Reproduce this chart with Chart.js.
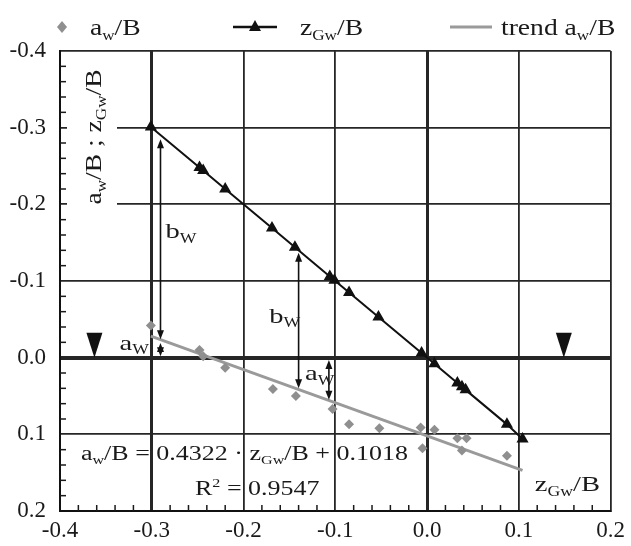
<!DOCTYPE html>
<html>
<head>
<meta charset="utf-8">
<script src="https://cdn.jsdelivr.net/npm/chart.js@4"></script>
<style>
  html, body { margin: 0; padding: 0; background: #fff; }
  #wrap { width: 631px; height: 546px; }
</style>
</head>
<body>
<div id="wrap"><canvas id="c" width="631" height="546"></canvas></div>
<script>
// ======== DATA ========
const zX = [-0.301, -0.248, -0.244, -0.220, -0.169, -0.144, -0.106, -0.101, -0.085, -0.053, -0.006, 0.008, 0.033, 0.038, 0.042, 0.087, 0.104];
const zY = [-0.301, -0.248, -0.244, -0.220, -0.169, -0.144, -0.106, -0.101, -0.085, -0.053, -0.006, 0.008, 0.033, 0.038, 0.042, 0.087, 0.106];

const aX = [-0.301, -0.248, -0.244, -0.220, -0.168, -0.143, -0.103, -0.085, -0.052, -0.007, -0.005, 0.008, 0.033, 0.043, 0.038, 0.087];
const aY = [-0.042, -0.010, -0.002, 0.013, 0.041, 0.050, 0.067, 0.087, 0.092, 0.091, 0.118, 0.094, 0.105, 0.105, 0.121, 0.128];

const trendX = [-0.301, 0.104];
const trendY = [-0.028, 0.147];

const xTicks = [-0.4, -0.3, -0.2, -0.1, 0.0, 0.1, 0.2];
const yTicks = [-0.4, -0.3, -0.2, -0.1, 0.0, 0.1, 0.2];

// arrows: x, from y1 to y2 (both heads)
const arrowX  = [-0.2905, -0.2905, -0.140, -0.107];
const arrowY1 = [-0.285, -0.019, -0.137, 0.003];
const arrowY2 = [-0.024, -0.002, 0.040, 0.055];

// zero markers (down triangles on the 0 line)
const markX = [-0.3625, 0.149];

const SERIF = "'Liberation Serif', 'Times New Roman', serif";
const STRETCH = 1.3;

// ======== TEXT HELPER ========
function partsWidth(ctx, parts, size) {
  let w = 0;
  for (const p of parts) {
    const s = p[1] ? size * 0.62 : size;
    ctx.font = s + "px " + SERIF;
    w += ctx.measureText(p[0]).width;
  }
  return w;
}

function drawRich(ctx, parts, x, y, size, align, sx, rot) {
  ctx.save();
  ctx.translate(x, y);
  if (rot) ctx.rotate(rot);
  ctx.scale(sx, 1);
  const w = partsWidth(ctx, parts, size);
  let cx = align === "center" ? -w / 2 : align === "right" ? -w : 0;
  ctx.textAlign = "left";
  ctx.textBaseline = "alphabetic";
  ctx.fillStyle = "#1a1a1a";
  const base = size * 0.33;
  for (const p of parts) {
    const s = p[1] ? size * 0.62 : size;
    const dy = p[1] === "sub" ? size * 0.2 : p[1] === "sup" ? -size * 0.4 : 0;
    ctx.font = s + "px " + SERIF;
    ctx.fillText(p[0], cx, base + dy);
    cx += ctx.measureText(p[0]).width;
  }
  ctx.restore();
}

function arrowHead(ctx, x, y, dir) {
  // dir = -1 points up, 1 points down; (x,y) is the tip
  ctx.beginPath();
  ctx.moveTo(x, y);
  ctx.lineTo(x - 3.5, y - dir * 9);
  ctx.lineTo(x + 3.5, y - dir * 9);
  ctx.closePath();
  ctx.fill();
}

// ======== PLUGIN ========
const extras = {
  id: "extras",
  beforeDatasetsDraw(chart) {
    const { ctx, chartArea: a, scales: { x, y } } = chart;
    ctx.save();
    ctx.strokeStyle = "#1a1a1a";
    ctx.lineWidth = 1.5;
    // minor ticks
    for (let i = 0; i <= 30; i++) {
      if (i % 5 === 0) continue;
      const v = -0.4 + i * 0.02;
      const px = x.getPixelForValue(v);
      ctx.beginPath(); ctx.moveTo(px, a.bottom); ctx.lineTo(px, a.bottom - 6); ctx.stroke();
      const py = y.getPixelForValue(v);
      ctx.beginPath(); ctx.moveTo(a.left, py); ctx.lineTo(a.left + 6, py); ctx.stroke();
    }
    // y axis title with white box
    ctx.fillStyle = "#fff";
    ctx.fillRect(a.left + 7, a.top + 3, 50, 170);
    drawRich(ctx, [["a"], ["w", "sub"], ["/B ; z"], ["Gw", "sub"], ["/B"]],
      a.left + 33, a.top + 86, 24, "center", 1.15, -Math.PI / 2);
    ctx.restore();
  },
  afterDatasetsDraw(chart) {
    const { ctx, scales: { x, y } } = chart;
    ctx.save();
    ctx.strokeStyle = "#111";
    ctx.fillStyle = "#111";
    ctx.lineWidth = 1.6;
    arrowX.forEach((ax, i) => {
      const px = x.getPixelForValue(ax);
      const p1 = y.getPixelForValue(arrowY1[i]);
      const p2 = y.getPixelForValue(arrowY2[i]);
      ctx.beginPath(); ctx.moveTo(px, p1 + 4); ctx.lineTo(px, p2 - 4); ctx.stroke();
      arrowHead(ctx, px, p1, -1);
      arrowHead(ctx, px, p2, 1);
    });
    markX.forEach(mx => {
      const px = x.getPixelForValue(mx);
      const py = y.getPixelForValue(0);
      ctx.beginPath();
      ctx.moveTo(px, py);
      ctx.lineTo(px - 8, py - 25);
      ctx.lineTo(px + 8, py - 25);
      ctx.closePath();
      ctx.fill();
    });
    // labels
    const P = (vx, vy) => [x.getPixelForValue(vx), y.getPixelForValue(vy)];
    let q;
    q = P(-0.285, -0.165); drawRich(ctx, [["b"], ["W", "sub"]], q[0], q[1], 22, "left", STRETCH);
    q = P(-0.303, -0.020); drawRich(ctx, [["a"], ["W", "sub"]], q[0], q[1], 22, "right", STRETCH);
    q = P(-0.172, -0.055); drawRich(ctx, [["b"], ["W", "sub"]], q[0], q[1], 22, "left", STRETCH);
    q = P(-0.133, 0.020); drawRich(ctx, [["a"], ["W", "sub"]], q[0], q[1], 22, "left", STRETCH);
    q = P(-0.199, 0.125);
    drawRich(ctx, [["a"], ["w", "sub"], ["/B = 0.4322 \u00b7 z"], ["Gw", "sub"], ["/B + 0.1018"]], q[0], q[1], 20, "center", STRETCH);
    q = P(-0.185, 0.171);
    drawRich(ctx, [["R"], ["2", "sup"], [" = 0.9547"]], q[0], q[1], 20, "center", STRETCH);
    q = P(0.153, 0.165);
    drawRich(ctx, [["z"], ["Gw", "sub"], ["/B"]], q[0], q[1], 22, "center", STRETCH);
    ctx.restore();
  },
  afterDraw(chart) {
    const { ctx } = chart;
    ctx.save();
    const ly = 27;
    // diamond
    ctx.fillStyle = "#8f8f8f";
    ctx.beginPath();
    ctx.moveTo(62, ly - 6); ctx.lineTo(67, ly); ctx.lineTo(62, ly + 6); ctx.lineTo(57, ly);
    ctx.closePath(); ctx.fill();
    drawRich(ctx, [["a"], ["w", "sub"], ["/B"]], 90, ly, 24, "left", 1.15);
    // line + triangle
    ctx.strokeStyle = "#111"; ctx.lineWidth = 2.5;
    ctx.beginPath(); ctx.moveTo(233, ly); ctx.lineTo(277, ly); ctx.stroke();
    ctx.fillStyle = "#111";
    ctx.beginPath(); ctx.moveTo(255, ly - 7); ctx.lineTo(261, ly + 4); ctx.lineTo(249, ly + 4); ctx.closePath(); ctx.fill();
    drawRich(ctx, [["z"], ["Gw", "sub"], ["/B"]], 300, ly, 24, "left", 1.15);
    // gray line
    ctx.strokeStyle = "#9a9a9a"; ctx.lineWidth = 3;
    ctx.beginPath(); ctx.moveTo(450, ly); ctx.lineTo(492, ly); ctx.stroke();
    drawRich(ctx, [["trend a"], ["w", "sub"], ["/B"]], 501, ly, 24, "left", 1.15);
    ctx.restore();
  }
};

// ======== CHART ========
const near = (v, t) => Math.abs(v - t) < 1e-6;
const fmt = v => (Math.abs(v) < 1e-9 ? 0 : v).toFixed(1);

new Chart(document.getElementById("c"), {
  type: "scatter",
  data: {
    datasets: [
      {
        label: "trend aw/B",
        data: trendX.map((v, i) => ({ x: v, y: trendY[i] })),
        showLine: true, borderColor: "#9a9a9a", borderWidth: 3, pointRadius: 0, order: 3
      },
      {
        label: "aw/B",
        data: aX.map((v, i) => ({ x: v, y: aY[i] })),
        pointStyle: "rectRot", pointRadius: 5, backgroundColor: "#8f8f8f", borderColor: "#8f8f8f", borderWidth: 0, order: 2
      },
      {
        label: "zGw/B",
        data: zX.map((v, i) => ({ x: v, y: zY[i] })),
        showLine: true, borderColor: "#111", borderWidth: 2, pointStyle: "triangle", pointRadius: 5,
        backgroundColor: "#111", pointBorderColor: "#111", order: 1
      }
    ]
  },
  options: {
    responsive: false,
    animation: false,
    layout: { padding: { left: 0, right: 14, top: 51, bottom: 0 } },
    plugins: { legend: { display: false }, tooltip: { enabled: false } },
    scales: {
      x: {
        type: "linear", min: -0.4, max: 0.2,
        afterBuildTicks: s => { s.ticks = xTicks.map(v => ({ value: v })); },
        afterFit: s => { s.height = 35; },
        ticks: { callback: fmt, color: "#1a1a1a", font: { family: SERIF, size: 23 }, padding: 6, maxRotation: 0 },
        grid: {
          drawTicks: false, color: "#262626",
          lineWidth: c => near(c.tick.value, 0) || near(c.tick.value, -0.3) ? 3 : 1.8
        },
        border: { color: "#111", width: 2 }
      },
      y: {
        type: "linear", min: -0.4, max: 0.2, reverse: true,
        afterBuildTicks: s => { s.ticks = yTicks.map(v => ({ value: v })); },
        afterFit: s => { s.width = 60; },
        ticks: { callback: fmt, color: "#1a1a1a", font: { family: SERIF, size: 23 }, padding: 14 },
        grid: {
          drawTicks: false, color: "#262626",
          lineWidth: c => near(c.tick.value, 0) ? 4 : 1.8
        },
        border: { color: "#111", width: 2 }
      }
    }
  },
  plugins: [extras]
});
</script>
</body>
</html>
